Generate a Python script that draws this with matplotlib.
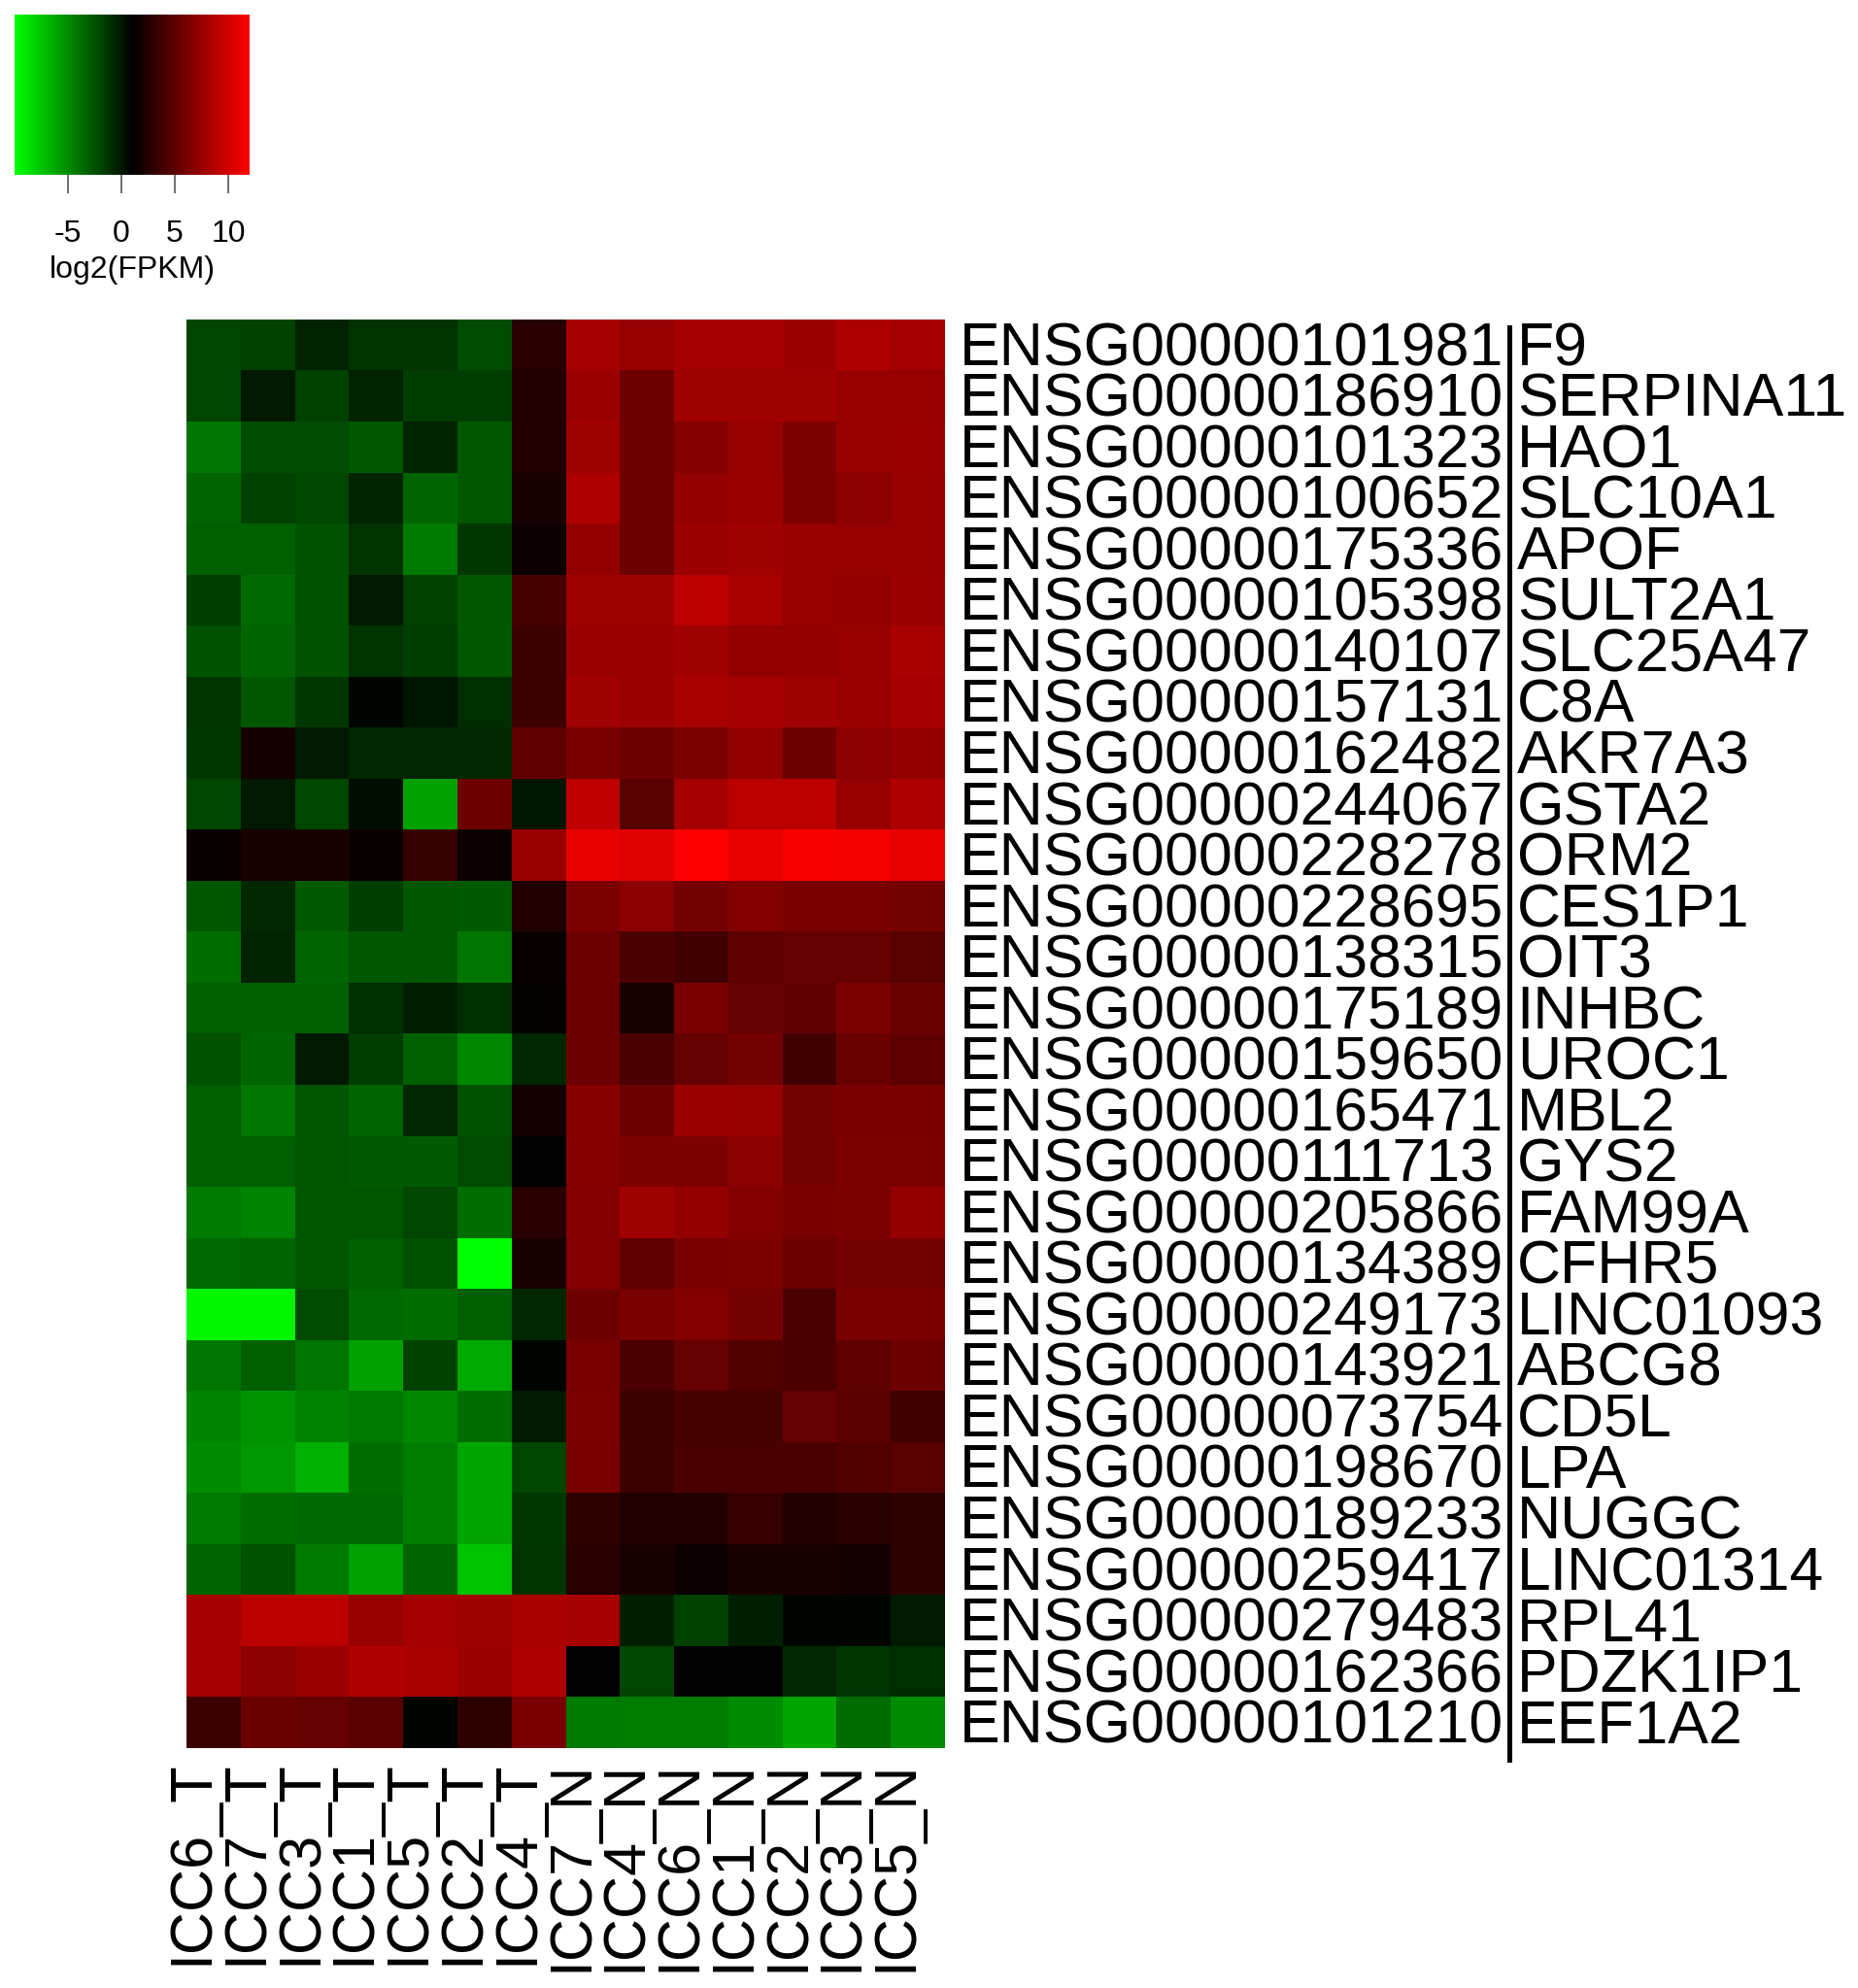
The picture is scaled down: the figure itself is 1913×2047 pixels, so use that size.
import numpy as np
import matplotlib
matplotlib.use("Agg")
import matplotlib.pyplot as plt
from matplotlib.colors import LinearSegmentedColormap
from matplotlib.lines import Line2D
from matplotlib.transforms import ScaledTranslation, blended_transform_factory

plt.rcParams['font.family'] = ['Liberation Sans', 'DejaVu Sans']
plt.rcParams['axes.unicode_minus'] = False

samples = ["ICC6_T", "ICC7_T", "ICC3_T", "ICC1_T", "ICC5_T", "ICC2_T", "ICC4_T",
           "ICC7_N", "ICC4_N", "ICC6_N", "ICC1_N", "ICC2_N", "ICC3_N", "ICC5_N"]

ensembl_ids = ["101981", "186910", "101323", "100652", "175336", "105398", "140107",
               "157131", "162482", "244067", "228278", "228695", "138315", "175189",
               "159650", "165471", "111713", "205866", "134389", "249173", "143921",
               "073754", "198670", "189233", "259417", "279483", "162366", "101210"]

genes = ["F9", "SERPINA11", "HAO1", "SLC10A1", "APOF", "SULT2A1", "SLC25A47",
         "C8A", "AKR7A3", "GSTA2", "ORM2", "CES1P1", "OIT3", "INHBC",
         "UROC1", "MBL2", "GYS2", "FAM99A", "CFHR5", "LINC01093", "ABCG8",
         "CD5L", "LPA", "NUGGC", "LINC01314", "RPL41", "PDZK1IP1", "EEF1A2"]

# log2(FPKM), one row per gene, columns in sample order
log2_fpkm = [
    [-2.0, -1.8, -0.5, -1.2, -1.2, -2.2, 2.7, 8.1, 7.5, 8.1, 8.1, 7.7, 8.5, 8.1],
    [-2.0, -0.1, -1.8, -0.5, -1.6, -1.6, 2.5, 7.7, 5.7, 7.9, 7.9, 7.9, 7.5, 7.5],
    [-4.0, -2.2, -2.2, -2.7, -0.5, -2.7, 2.3, 7.9, 5.7, 6.6, 7.5, 6.4, 7.5, 7.7],
    [-3.3, -1.8, -2.0, -0.5, -3.3, -2.7, 2.1, 8.5, 5.7, 7.3, 7.7, 6.4, 7.0, 7.5],
    [-3.1, -3.1, -2.5, -1.2, -4.2, -1.4, 1.6, 7.3, 5.7, 7.7, 7.9, 7.5, 7.5, 7.5],
    [-1.6, -3.5, -2.5, -0.1, -1.8, -2.7, 4.0, 7.9, 7.9, 9.0, 8.3, 7.5, 7.3, 7.7],
    [-2.5, -3.3, -2.5, -1.2, -1.6, -2.7, 3.6, 7.7, 7.7, 7.9, 7.3, 7.3, 7.5, 8.3],
    [-1.2, -2.7, -1.4, 0.8, 0.1, -0.9, 3.6, 7.9, 7.7, 8.3, 8.1, 7.9, 7.7, 8.1],
    [-1.4, 1.9, -0.1, -0.7, -0.7, -0.7, 5.1, 6.2, 5.7, 6.4, 7.3, 5.7, 7.0, 7.3],
    [-2.0, -0.1, -2.0, 0.4, -5.9, 5.7, 0.1, 9.2, 4.7, 8.1, 9.0, 9.0, 7.5, 8.5],
    [1.4, 2.1, 2.1, 1.4, 3.2, 1.6, 7.5, 10.9, 10.7, 11.8, 10.9, 11.6, 11.4, 10.9],
    [-2.7, -0.7, -2.9, -1.6, -2.7, -2.9, 2.3, 6.4, 7.0, 6.0, 6.6, 6.2, 6.2, 6.0],
    [-3.7, -0.5, -3.3, -2.7, -2.7, -4.0, 1.4, 5.7, 4.2, 3.8, 5.1, 5.3, 5.3, 4.7],
    [-3.1, -3.1, -3.1, -0.9, -0.3, -0.9, 1.2, 5.7, 2.1, 6.2, 5.3, 5.1, 6.4, 5.5],
    [-2.5, -3.3, -0.1, -1.6, -3.1, -4.8, -0.7, 5.7, 4.2, 5.3, 6.0, 3.8, 5.5, 5.1],
    [-3.1, -4.0, -2.7, -3.3, -0.7, -2.5, 1.9, 6.8, 5.7, 7.7, 7.5, 6.0, 6.2, 6.2],
    [-3.1, -3.1, -2.7, -2.9, -2.9, -2.2, 1.0, 6.8, 6.4, 6.4, 7.0, 6.0, 6.4, 6.4],
    [-4.2, -4.6, -2.7, -2.7, -2.0, -3.7, 2.7, 6.6, 7.9, 7.3, 6.6, 6.2, 6.4, 7.3],
    [-3.5, -3.3, -2.7, -3.1, -2.5, -10.0, 2.1, 6.6, 5.1, 6.2, 6.4, 5.7, 6.0, 6.0],
    [-9.6, -9.6, -2.2, -3.5, -3.7, -3.1, -0.7, 5.7, 6.2, 6.6, 6.0, 4.2, 6.2, 6.2],
    [-4.0, -3.1, -4.0, -5.9, -1.8, -6.3, 0.8, 6.2, 4.2, 5.3, 4.5, 4.2, 5.1, 5.7],
    [-4.6, -5.3, -4.6, -4.2, -4.8, -3.7, -0.1, 6.4, 3.6, 4.0, 4.0, 5.3, 4.9, 3.8],
    [-5.0, -5.5, -6.5, -3.7, -4.4, -6.1, -2.0, 6.2, 3.6, 4.2, 4.2, 4.2, 4.5, 4.7],
    [-4.2, -3.7, -3.5, -3.5, -4.4, -6.1, -1.4, 2.9, 2.3, 2.5, 3.4, 2.5, 2.7, 2.9],
    [-3.3, -2.5, -4.2, -5.9, -3.3, -7.4, -1.2, 2.7, 2.1, 1.6, 2.1, 2.1, 1.9, 2.9],
    [8.1, 9.0, 9.0, 7.5, 8.1, 7.9, 8.3, 8.1, -0.3, -1.8, -0.3, 0.8, 0.8, -0.1],
    [8.1, 7.0, 7.7, 8.5, 8.3, 7.7, 8.5, 1.0, -2.0, 1.0, 1.0, -0.7, -1.2, -0.9],
    [3.6, 5.5, 5.3, 4.9, 0.8, 2.9, 6.2, -4.2, -4.4, -4.4, -5.0, -6.1, -3.7, -5.0],
]

vmin, vmax = -10, 12
cbar_ticks = [-5, 0, 5, 10]

cmap = LinearSegmentedColormap.from_list("gkr", ["#00ff00", "#000000", "#ff0000"])

fig = plt.figure(figsize=(19.13, 20.47), dpi=100)

# main heatmap
ax = fig.add_axes([0.1004, 0.1207, 0.4082, 0.7186])
data = np.array(log2_fpkm)
mesh = ax.pcolormesh(data, cmap=cmap, vmin=vmin, vmax=vmax)
ax.set_xlim(0, len(samples))
ax.set_ylim(len(genes), 0)
for s in ax.spines.values():
    s.set_visible(False)

# row labels: Ensembl id as tick label, gene symbol in a second column
down = ScaledTranslation(0, -0.21, fig.dpi_scale_trans)
ax.yaxis.tick_right()
ax.set_yticks(np.arange(len(genes)) + 0.5)
ax.set_yticklabels(["ENSG00000" + e for e in ensembl_ids], fontsize=45, va='baseline')
ax.tick_params(axis='y', length=0, pad=11)
for lab in ax.get_yticklabels():
    lab.set_transform(lab.get_transform() + down)

trans = blended_transform_factory(ax.transAxes, ax.transData)
for i, g in enumerate(genes):
    ax.text(1.754, i + 0.5, g, transform=trans + down, fontsize=45,
            ha='left', va='baseline')

# separator bar between id and symbol
fig.add_artist(Line2D([1554 / 1913, 1554 / 1913], [1 - 337 / 2047, 1 - 1812 / 2047],
                      color='black', linewidth=3.6))

ax.set_xticks(np.arange(len(samples)) + 0.5)
ax.set_xticklabels(samples, rotation=90, fontsize=44)
ax.tick_params(axis='x', length=0, pad=9)
shift = ScaledTranslation(-0.22, 0, fig.dpi_scale_trans)
for lab in ax.get_xticklabels():
    lab.set_transform(lab.get_transform() + shift)

# colour key
cax = fig.add_axes([0.0078, 0.9121, 0.1265, 0.0806])
cb = fig.colorbar(mesh, cax=cax, orientation='horizontal', ticks=cbar_ticks)
cb.outline.set_visible(False)
cax.tick_params(axis='x', length=14, width=1.2, color='#555555', labelsize=23, pad=19)
cax.set_xlabel("log2(FPKM)", fontsize=23, labelpad=5)

fig.savefig("out.png", dpi=100)
